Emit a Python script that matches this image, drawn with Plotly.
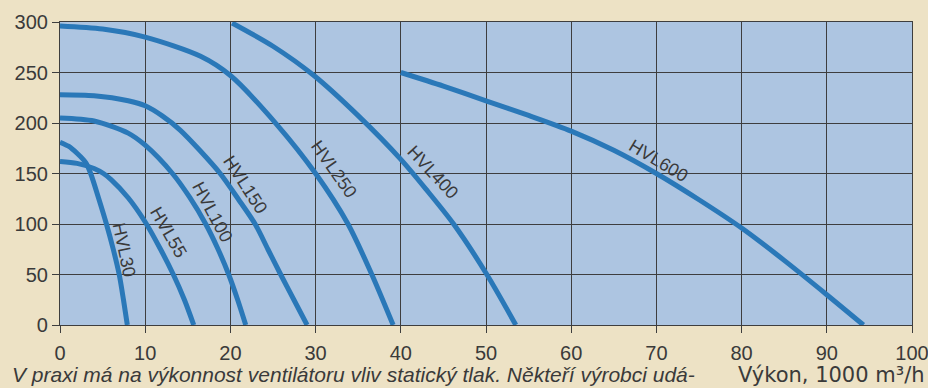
import plotly.graph_objects as go

# ---- data (flow in 1000 m3/h, static pressure in Pa) ----
hvl30_x = [0, 1, 2, 3, 3.6, 4.55, 5.45, 6.25, 6.95, 7.45, 7.9]
hvl30_y = [181, 177, 170, 161, 150, 125, 100, 75, 50, 25, 0]

hvl55_x = [0, 2, 4, 5.1, 6, 8, 10, 11.8, 13.3, 14.6, 15.7]
hvl55_y = [162, 160, 155, 150, 144, 126, 102, 75, 50, 25, 0]

hvl100_x = [0, 4, 8, 10, 13.2, 15.25, 17.1, 18.5, 19.8, 20.85, 21.8]
hvl100_y = [205, 202, 190, 178, 150, 126, 100, 76, 50, 25, 0]

hvl150_x = [0, 4, 8, 10, 12, 14.1, 16.4, 18.8, 20.9, 22.9, 24.4, 25.9, 27.45, 29]
hvl150_y = [228, 227, 222, 217, 207, 193, 173, 150, 125, 100, 75, 50, 25, 0]

hvl250_x = [0, 5, 10, 16.5, 20, 25.5, 30, 33.8, 36.6, 39.1]
hvl250_y = [296, 293, 285, 266, 247, 198, 150, 100, 50, 0]

hvl400_x = [20.2, 25, 29.8, 34.9, 40, 43, 46.2, 50.1, 53.5]
hvl400_y = [299, 276, 247, 208, 164, 134, 100, 50, 0]

hvl600_x = [40, 45, 50, 55, 60, 65, 70, 75, 80, 85, 90, 94.3]
hvl600_y = [250, 236.5, 222, 207.5, 192, 173, 150, 124, 96, 64, 30, 0]

series_names = ["HVL30", "HVL55", "HVL100", "HVL150", "HVL250", "HVL400", "HVL600"]
series_x = [hvl30_x, hvl55_x, hvl100_x, hvl150_x, hvl250_x, hvl400_x, hvl600_x]
series_y = [hvl30_y, hvl55_y, hvl100_y, hvl150_y, hvl250_y, hvl400_y, hvl600_y]

# label anchor positions (data coords) and angles
label_x = [7.5, 12.7, 17.9, 21.8, 32.1, 43.7, 70.3]
label_y = [74, 92, 112, 139, 154, 151, 162.6]
label_angle = [78, 60, 62, 57, 55, 47, 31]

x_ticks = [0, 10, 20, 30, 40, 50, 60, 70, 80, 90, 100]
y_ticks = [0, 50, 100, 150, 200, 250, 300]

caption = "V praxi má na výkonnost ventilátoru vliv statický tlak. Někteří výrobci udá-"
x_title = "Výkon, 1000 m³/h"

LINE = "#2a78b8"
GRID = "#3e3e3e"
TXT = "#3a3a3a"
FONT = "Liberation Sans, Arial, sans-serif"

fig = go.Figure()
for name, xs, ys in zip(series_names, series_x, series_y):
    fig.add_trace(go.Scatter(x=xs, y=ys, mode="lines", name=name,
                             line=dict(color=LINE, width=5, shape="spline", smoothing=0.8),
                             hoverinfo="x+y+name"))

for name, lx, ly, ang in zip(series_names, label_x, label_y, label_angle):
    fig.add_annotation(x=lx, y=ly, xref="x", yref="y", text=name, showarrow=False,
                       textangle=ang, font=dict(family=FONT, size=18, color=TXT))

fig.add_annotation(x=-0.0587, y=-0.165, xref="paper", yref="paper", text=caption,
                   showarrow=False, xanchor="left", yanchor="middle",
                   font=dict(family=FONT, size=21, color=TXT, style="italic"))
fig.add_annotation(x=1.0176, y=-0.165, xref="paper", yref="paper", text=x_title,
                   showarrow=False, xanchor="right", yanchor="middle",
                   font=dict(family="DejaVu Sans, sans-serif", size=21, color=TXT))

fig.update_layout(
    width=928, height=388,
    margin=dict(l=60, r=16, t=22, b=63, autoexpand=False),
    paper_bgcolor="#ede2c5",
    plot_bgcolor="#adc5e1",
    showlegend=False,
    font=dict(family=FONT, size=20, color=TXT),
)
fig.update_xaxes(range=[0, 100], tickvals=x_ticks, showgrid=True, gridcolor=GRID, gridwidth=1.2,
                 showline=True, linecolor=GRID, linewidth=1.2, mirror=True, automargin=False,
                 ticks="outside", ticklen=7, tickcolor=GRID, tickwidth=1.2,
                 ticklabeloverflow="allow", ticklabelstandoff=3,
                 zeroline=False, tickfont=dict(size=20, color=TXT))
fig.update_yaxes(range=[0, 300], tickvals=y_ticks, showgrid=True, gridcolor=GRID, gridwidth=1.2,
                 showline=True, linecolor=GRID, linewidth=1.2, mirror=True, automargin=False,
                 ticks="outside", ticklen=7, tickcolor=GRID, tickwidth=1.2,
                 ticklabeloverflow="allow",
                 zeroline=False, tickfont=dict(size=20, color=TXT))

fig.write_html("out.html",
               config={"displayModeBar": False},
               post_script="document.body.style.margin='0';document.body.style.overflow='hidden';")
